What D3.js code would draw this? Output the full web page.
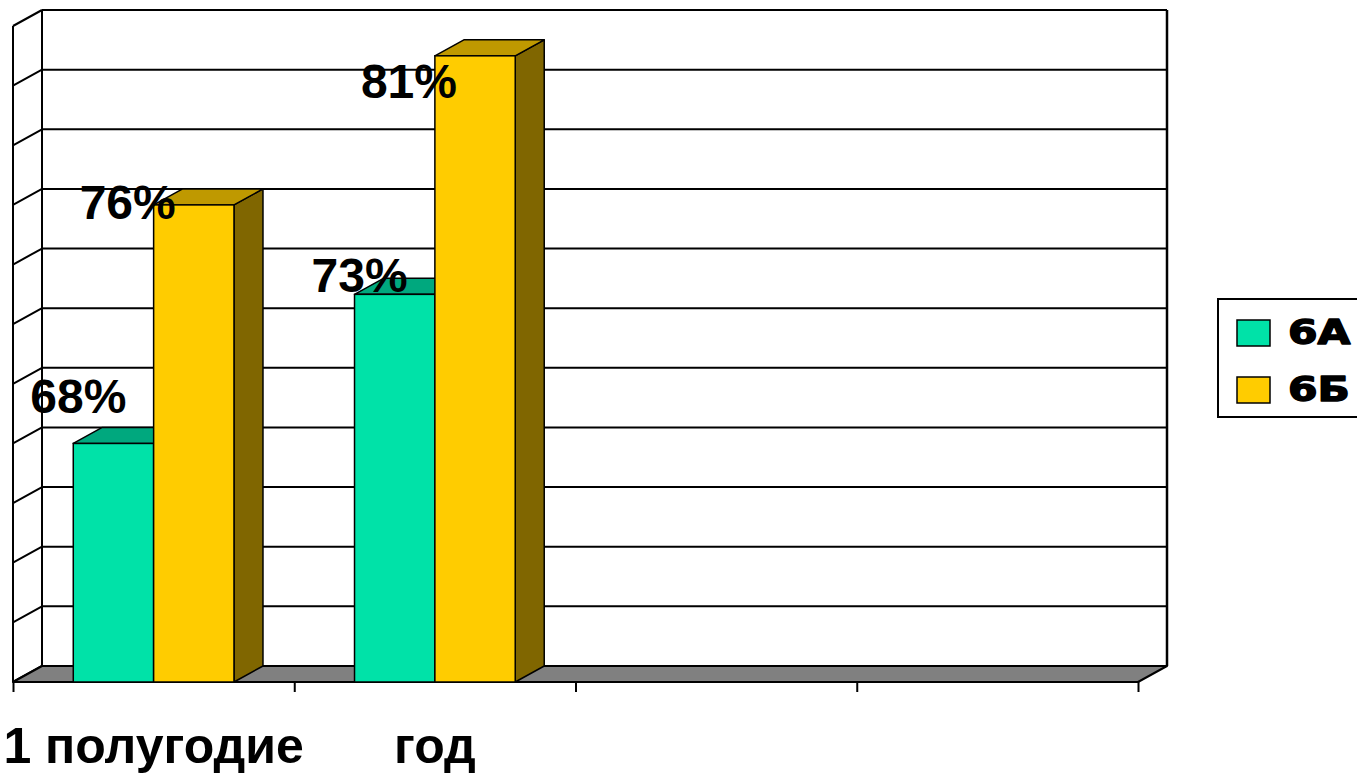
<!DOCTYPE html>
<html>
<head>
<meta charset="utf-8">
<script src="https://cdn.jsdelivr.net/npm/d3@7"></script>
<style>
  html, body { margin: 0; padding: 0; background: #fff; overflow: hidden; }
  svg { display: block; }
</style>
</head>
<body>
<svg id="chart" width="1357" height="775"></svg>
<script>
// ---- data ----
const categories = ["1 полугодие", "год", "", ""];
const seriesNames = ["6А", "6Б"];
const values6A = [68, 73];
const values6B = [76, 81];
const valueTicks = [60, 62, 64, 66, 68, 70, 72, 74, 76, 78, 80, 82];

// ---- layout ----
const W = 1357, H = 775;
const floorFront = 682, floorBack = 666;
const frontLeft = 13, frontRight = 1138;
const depthX = 29, depthY = floorFront - floorBack; // 3D offset
const wallTop = 10;

const colors = {
  "6А": { front: "#00E2A8", top: "#00A87E", side: "#00715A" },
  "6Б": { front: "#FFCC00", top: "#BF9900", side: "#806600" }
};

const svg = d3.select("#chart");

const x = d3.scaleBand().domain(d3.range(categories.length)).range([frontLeft, frontRight]).padding(0);
const xs = d3.scaleBand().domain(seriesNames).range([0, x.bandwidth()]).paddingInner(0).paddingOuter(0.75);
const xEdge = d3.scaleLinear().domain([0, categories.length]).range([frontLeft, frontRight]);
const yBack = d3.scaleLinear().domain([valueTicks[0], valueTicks[valueTicks.length - 1]]).range([floorBack, wallTop]);
const yFront = v => yBack(v) + depthY;
const labelY = d3.scaleLinear().domain([60, 82]).range([606, 74]);

// ---- back wall & left wall ----
const walls = svg.append("g");
walls.selectAll("line.grid").data(valueTicks).join("line")
  .attr("x1", frontLeft + depthX).attr("x2", frontRight + depthX)
  .attr("y1", d => yBack(d)).attr("y2", d => yBack(d))
  .attr("stroke", "#000").attr("stroke-width", 2);
walls.selectAll("line.lgrid").data(valueTicks).join("line")
  .attr("x1", frontLeft).attr("x2", frontLeft + depthX)
  .attr("y1", d => yFront(d)).attr("y2", d => yBack(d))
  .attr("stroke", "#000").attr("stroke-width", 2);
walls.append("line").attr("x1", frontLeft + depthX).attr("x2", frontLeft + depthX)
  .attr("y1", yBack(82)).attr("y2", floorBack).attr("stroke", "#000").attr("stroke-width", 2);
walls.append("line").attr("x1", frontRight + depthX).attr("x2", frontRight + depthX)
  .attr("y1", yBack(82)).attr("y2", floorBack).attr("stroke", "#000").attr("stroke-width", 2.5);
walls.append("line").attr("x1", frontLeft).attr("x2", frontLeft)
  .attr("y1", yFront(82)).attr("y2", floorFront).attr("stroke", "#000").attr("stroke-width", 2);

// floor
svg.append("polygon")
  .attr("points", [[frontLeft, floorFront], [frontRight, floorFront], [frontRight + depthX, floorBack], [frontLeft + depthX, floorBack]].map(p => p.join(",")).join(" "))
  .attr("fill", "#808080").attr("stroke", "#000").attr("stroke-width", 2).attr("stroke-linejoin", "round");

// category axis ticks at band edges
svg.append("g").attr("transform", `translate(0,${floorFront})`)
  .call(d3.axisBottom(xEdge).tickValues(d3.range(categories.length + 1)).tickFormat("").tickSize(10).tickSizeOuter(0))
  .call(g => g.select(".domain").remove())
  .call(g => g.selectAll(".tick line").attr("stroke", "#000").attr("stroke-width", 2));

// category labels
svg.append("g").attr("transform", `translate(0,${floorFront})`)
  .call(d3.axisBottom(x).tickFormat(i => categories[i]).tickSize(0))
  .call(g => g.select(".domain").remove())
  .call(g => g.selectAll(".tick text")
    .attr("y", 81).attr("dy", 0)
    .attr("font-family", "'Liberation Sans', Arial, sans-serif")
    .attr("font-weight", "bold").attr("font-size", 50).attr("fill", "#000"));

// ---- bars ----
const barData = [];
categories.forEach((c, i) => {
  if (values6A[i] != null) barData.push({ cat: i, s: "6А", v: values6A[i] });
  if (values6B[i] != null) barData.push({ cat: i, s: "6Б", v: values6B[i] });
});

const bars = svg.append("g");
barData.forEach(d => {
  const x0 = x(d.cat) + xs(d.s), x1 = x0 + xs.bandwidth();
  const yt = yFront(d.v);
  const g = bars.append("g");
  const pts = a => a.map(p => p.join(",")).join(" ");
  g.append("polygon").attr("points", pts([[x1, yt], [x1 + depthX, yt - depthY], [x1 + depthX, floorBack], [x1, floorFront]]))
    .attr("fill", colors[d.s].side).attr("stroke", "#000").attr("stroke-width", 1.5).attr("stroke-linejoin", "round");
  g.append("polygon").attr("points", pts([[x0, yt], [x1, yt], [x1 + depthX, yt - depthY], [x0 + depthX, yt - depthY]]))
    .attr("fill", colors[d.s].top).attr("stroke", "#000").attr("stroke-width", 1.5).attr("stroke-linejoin", "round");
  g.append("rect").attr("x", x0).attr("y", yt).attr("width", x1 - x0).attr("height", floorFront - yt)
    .attr("fill", colors[d.s].front).attr("stroke", "#000").attr("stroke-width", 1.5);
});

// ---- data labels ----
const labelDx = { "6А": -43, "6Б": -74 };
svg.append("g").selectAll("text").data(barData).join("text")
  .attr("x", d => x(d.cat) + xs(d.s) + labelDx[d.s])
  .attr("y", d => labelY(d.v))
  .attr("font-family", "'Liberation Sans', Arial, sans-serif")
  .attr("font-weight", "bold").attr("font-size", 48).attr("fill", "#000")
  .text(d => d.v + "%");

// ---- legend ----
const legend = svg.append("g");
legend.append("rect").attr("x", 1218).attr("y", 299).attr("width", 160).attr("height", 118)
  .attr("fill", "#fff").attr("stroke", "#000").attr("stroke-width", 2);
const ly = d3.scalePoint().domain(seriesNames).range([333, 390]);
seriesNames.forEach(s => {
  legend.append("rect").attr("x", 1237).attr("y", ly(s) - 13).attr("width", 33).attr("height", 26)
    .attr("fill", colors[s].front).attr("stroke", "#000").attr("stroke-width", 1.5);
  legend.append("text")
    .attr("transform", `translate(1288,${ly(s) + 11}) scale(1.25,1)`)
    .attr("font-family", "'DejaVu Sans', Verdana, sans-serif")
    .attr("font-weight", "bold").attr("font-size", 34).attr("fill", "#000")
    .attr("stroke", "#000").attr("stroke-width", 1.4).attr("stroke-linejoin", "round")
    .text(s);
});
</script>
</body>
</html>
